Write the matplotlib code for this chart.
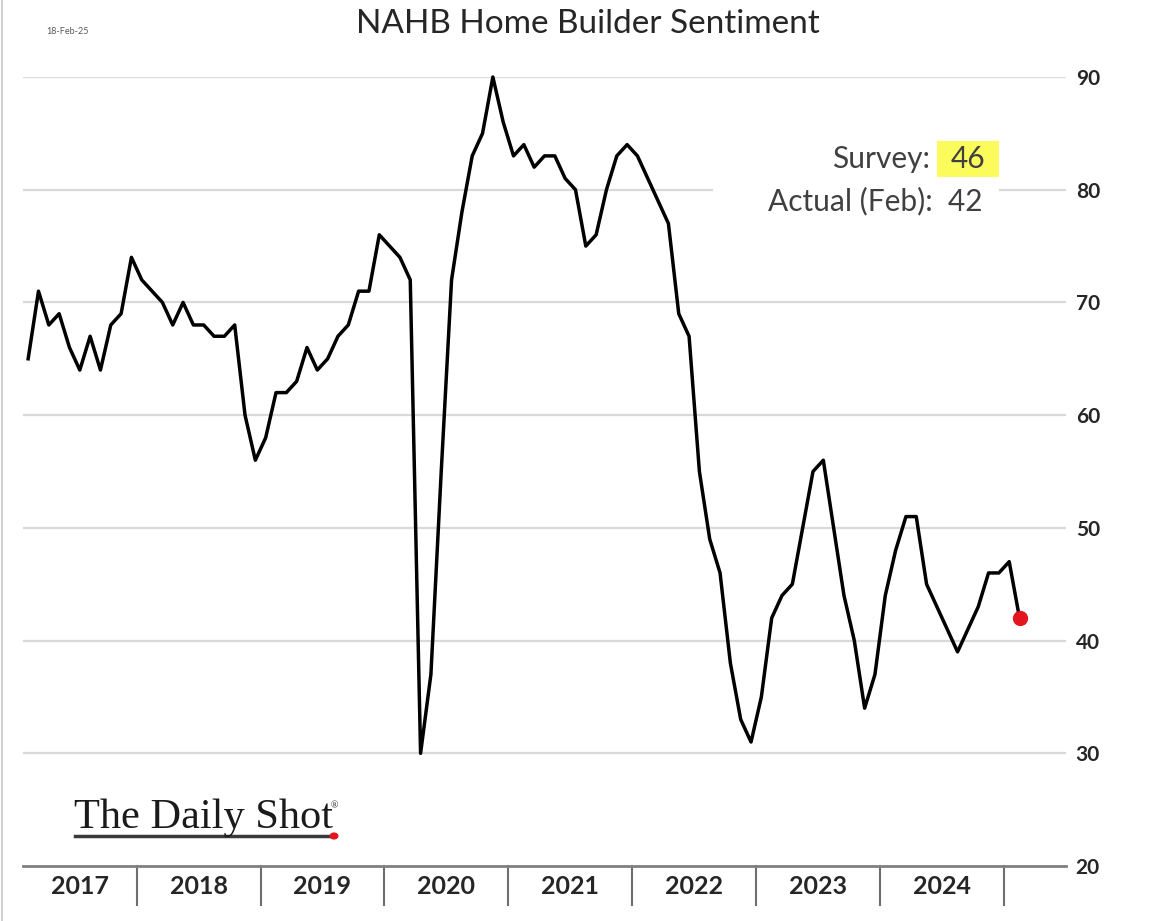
import matplotlib
matplotlib.use("Agg")
from matplotlib import pyplot as plt
from matplotlib.patches import Rectangle, Circle
from matplotlib.lines import Line2D
import matplotlib.transforms as mtransforms

# NAHB index, Feb 2017 .. Feb 2025 (monthly)
first_month = 1  # months since Jan 2017
sentiment = [
    65, 71, 68, 69, 66, 64, 67, 64, 68, 69, 74,
    72, 71, 70, 68, 70, 68, 68, 67, 67, 68, 60, 56,
    58, 62, 62, 63, 66, 64, 65, 67, 68, 71, 71, 76,
    75, 74, 72, 30, 37, 55, 72, 78, 83, 85, 90, 86,
    83, 84, 82, 83, 83, 81, 80, 75, 76, 80, 83, 84,
    83, 81, 79, 77, 69, 67, 55, 49, 46, 38, 33, 31,
    35, 42, 44, 45, 50, 55, 56, 50, 44, 40, 34, 37,
    44, 48, 51, 51, 45, 43, 41, 39, 41, 43, 46, 46,
    47, 42,
]
years = ["2017", "2018", "2019", "2020", "2021", "2022", "2023", "2024"]
yticks = [20, 30, 40, 50, 60, 70, 80, 90]
survey = 46
actual = 42

W, H = 1156, 921


def px(x, y):
    # pixel position -> figure fraction
    return x / W, 1 - y / H


def draw_graph():
    plt.rcParams["font.family"] = ["Lato", "DejaVu Sans"]
    fig = plt.figure(figsize=(W / 100, H / 100), dpi=100)

    ax = fig.add_axes([23 / W, 1 - 866 / H, (1066 - 23) / W, (866 - 77) / H])
    ax.set_xlim(0.5, 101.5)
    ax.set_ylim(20, 90)

    for y in yticks[1:]:
        ax.axhline(y, color="#d9d9d9", lw=1.6, zorder=1)

    months = list(range(first_month, first_month + len(sentiment)))
    ax.plot(months, sentiment, color="black", lw=2.5, clip_on=False, zorder=3)
    ax.plot(months[-1], sentiment[-1], "o", color="#e3161f", ms=10, clip_on=False, zorder=4)

    for s in ["top", "left", "right"]:
        ax.spines[s].set_visible(False)
    ax.spines["bottom"].set_color("#808080")
    ax.spines["bottom"].set_linewidth(2)

    ax.set_xticks([])
    ax.yaxis.tick_right()
    ax.set_yticks(yticks)
    ax.tick_params(axis="y", length=0, pad=7, labelsize=15, labelcolor="#262626")
    for lab in ax.get_yticklabels():
        lab.set_fontweight("bold")

    # year separators and labels
    trans = mtransforms.blended_transform_factory(ax.transData, ax.transAxes)
    for k in range(len(years)):
        sep = 11.5 + 12 * k
        ax.plot([sep, sep], [0, -0.05], color="#6e6e6e", lw=1.5, transform=trans, clip_on=False)
        start = max(0.5, sep - 12)
        ax.text((start + sep) / 2, -0.026, years[k], transform=trans, ha="center", va="center",
                fontsize=18, fontweight="bold", color="#262626")

    fig.text(*px(588, 24), "NAHB Home Builder Sentiment", ha="center", va="center",
             fontsize=24, color="#262626")
    fig.text(*px(46, 32), "18-Feb-25", ha="left", va="center", fontsize=6.5, color="#595959")

    # annotation box
    fig.patches.append(Rectangle(px(713, 225), 286 / W, 95 / H, transform=fig.transFigure,
                                 facecolor="white", edgecolor="none", zorder=1))
    fig.patches.append(Rectangle(px(937, 177), 62 / W, 36 / H, transform=fig.transFigure,
                                 facecolor="#fbfb5c", edgecolor="none", zorder=2))
    fig.text(*px(930, 159), "Survey:", ha="right", va="center", fontsize=21.5, color="#404040")
    fig.text(*px(968, 159), str(survey), ha="center", va="center", fontsize=21.5, color="#404040")
    fig.text(*px(983, 201), "Actual (Feb):  %d" % actual, ha="right", va="center",
             fontsize=21.5, color="#404040")

    # logo
    fig.text(*px(74, 828), "The Daily Shot", ha="left", va="baseline", fontsize=30.5,
             family="Liberation Serif", color="#1a1a1a")
    fig.text(*px(331, 806), "®", ha="left", va="center", fontsize=7,
             family="Liberation Serif", color="#1a1a1a")
    fig.lines.append(Line2D([75 / W, 330 / W], [1 - 836 / H] * 2, transform=fig.transFigure,
                            color="#3a3a3a", lw=2.5))
    fig.patches.append(Circle(px(334, 836), 4.5 / W, transform=fig.transFigure,
                              facecolor="#e3161f", edgecolor="none", zorder=3))

    fig.lines.append(Line2D([2 / W, 2 / W], [0, 1], transform=fig.transFigure,
                            color="#d0d0d0", lw=1.5))

    fig.savefig("out.png", dpi=100)


def main():
    draw_graph()


if __name__ == "__main__":
    main()
